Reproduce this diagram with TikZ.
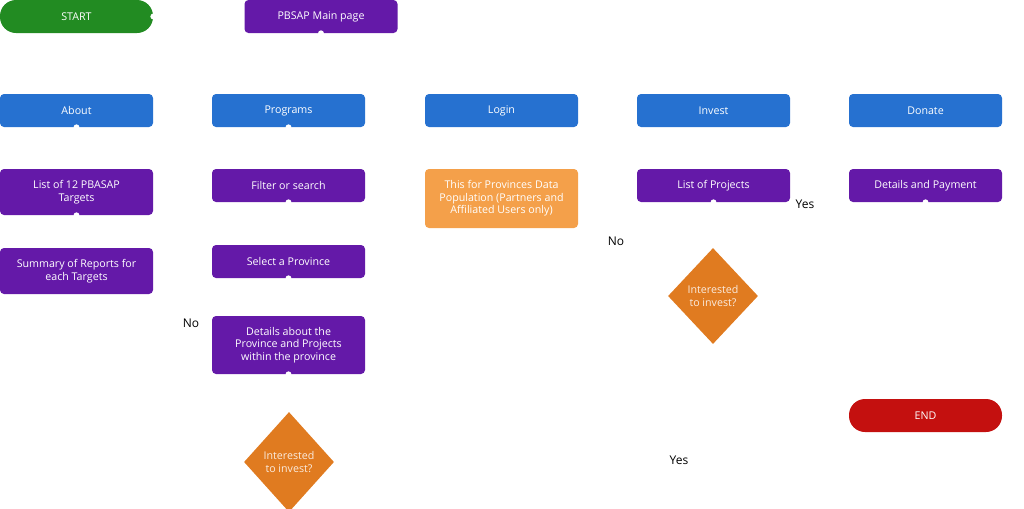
\documentclass[tikz,border=0pt]{standalone}
\usepackage{fontspec}
\setmainfont{Open Sans}
\usetikzlibrary{shapes.geometric}
\definecolor{gr}{HTML}{228B22}
\definecolor{pu}{HTML}{6419A8}
\definecolor{bl}{HTML}{2671D0}
\definecolor{lo}{HTML}{F4A04A}
\definecolor{do}{HTML}{E07B20}
\definecolor{rd}{HTML}{C4100F}
\begin{document}
\begin{tikzpicture}[x=0.75pt,y=-0.75pt,
 box/.style={draw=none,text=white,font=\fontsize{8}{9.5}\selectfont,align=center,inner sep=0pt,minimum width=114.75pt,rounded corners=3pt},
 pbox/.style={box,fill=pu},
 bbox/.style={box,fill=bl,minimum height=24.75pt},
 term/.style={box,minimum height=24.75pt,rounded corners=12pt},
 dia/.style={diamond,fill=do,text=white!85!do,font=\fontsize{8}{9.5}\selectfont,align=center,inner sep=0pt,minimum width=67.5pt,minimum height=75pt},
 lab/.style={font=\fontsize{9}{10}\selectfont,text=black}]
\useasboundingbox (0,0) rectangle (1024,508);
\node[term,fill=gr] (start) at (76.5,16.5) {START};
\node[pbox,minimum height=24.75pt] (main) at (321,16.5) {PBSAP Main page};
\node[bbox] (about) at (76.5,110.5) {About};
\node[bbox] (prog) at (288.5,110.5) {Programs};
\node[bbox] (login) at (501.5,110.5) {Login};
\node[bbox] (inv) at (713.5,110.5) {Invest};
\node[bbox] (don) at (925.5,110.5) {Donate};
\node[pbox,minimum height=34.5pt] (list12) at (76.5,192) {List of 12 PBASAP\\Targets};
\node[pbox,minimum height=34.5pt] (summ) at (76.5,271) {Summary of Reports for\\each Targets};
\node[pbox,minimum height=24.75pt] (filt) at (288.5,185.5) {Filter or search};
\node[pbox,minimum height=24.75pt] (sel) at (288.5,261.5) {Select a Province};
\node[pbox,minimum height=43.5pt] (det) at (288.5,345) {Details about the\\Province and Projects\\within the province};
\node[box,fill=lo,minimum height=44.25pt] (pop) at (501.5,198.5) {This for Provinces Data\\Population (Partners and\\Affiliated Users only)};
\node[pbox,minimum height=24.75pt] (lp) at (713.5,185.5) {List of Projects};
\node[pbox,minimum height=24.75pt] (pay) at (925.5,185.5) {Details and Payment};
\node[dia] (d1) at (289,462) {Interested\\to invest?};
\node[dia,minimum height=72pt] (d2) at (713,296) {Interested\\to invest?};
\node[term,fill=rd] (end) at (925.5,415.5) {END};
\node[lab] (y1) at (805,204) {Yes};
\node[lab] (n1) at (616,241) {No};
\node[lab] (n2) at (191,323) {No};
\node[lab] (y2) at (679,460) {Yes};
\foreach \n in {main,about,prog,list12,filt,sel,det,lp,pay}
  \fill[white] (\n.south) circle (2.2pt);
\fill[white] (start.east) circle (2.2pt);
\end{tikzpicture}
\end{document}
